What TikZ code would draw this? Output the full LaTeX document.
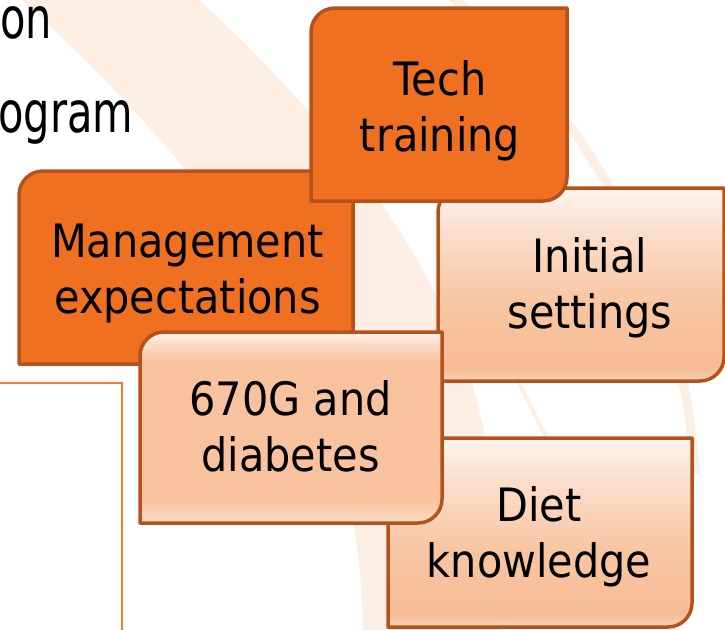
\documentclass[tikz,border=0pt]{standalone}
\usepackage{fontspec}
\setmainfont{DejaVu Sans}
\newfontfamily\boxfont{DejaVu Sans}[FakeStretch=0.9]
\newfontfamily\bodyfont{DejaVu Sans}[FakeStretch=0.73]

\definecolor{boxdark}{HTML}{F07022}
\definecolor{boxedge}{HTML}{B5521B}
\definecolor{swoosh}{HTML}{FDEEE3}
\definecolor{frameline}{HTML}{F47B30}
\definecolor{pkTop}{HTML}{FEF4EE}
\definecolor{pkUp}{HTML}{FBDCC8}
\definecolor{pkMid}{HTML}{F8C5A2}
\definecolor{pkLow}{HTML}{F7BC95}
\definecolor{pkBot}{HTML}{FAD6BE}
\definecolor{pcMid}{HTML}{F8C29E}

% vertical fills of the light boxes (path box maps to 25bp..75bp)
\pgfdeclareverticalshading{peachsoft}{100bp}{color(0bp)=(pkBot); color(25bp)=(pkBot); color(28bp)=(pkLow); color(45bp)=(pkMid); color(62bp)=(pkUp); color(75bp)=(pkTop); color(100bp)=(pkTop)}
\pgfdeclareverticalshading{peachflat}{100bp}{color(0bp)=(pkUp); color(25bp)=(pkUp); color(31bp)=(pcMid); color(67bp)=(pcMid); color(72bp)=(pkUp); color(75bp)=(pkTop); color(100bp)=(pkTop)}

% box with rounded top-left and bottom-right corners: style, x1, y1, x2, y2
\newcommand\cornerbox[5]{%
  \path[#1] (#2,#5) -- (#2,{#3+24}) .. controls (#2,{#3+10.75}) and ({#2+10.75},#3) .. ({#2+24},#3)
    -- (#4,#3) -- (#4,{#5-24}) .. controls (#4,{#5-10.75}) and ({#4-10.75},#5) .. ({#4-24},#5) -- cycle;}
\newcommand\twolines[1]{\parbox[t]{330pt}{\centering #1}}

\tikzset{
  boxline/.style={draw=boxedge, line width=3.5pt, line join=round},
  darkbox/.style={boxline, fill=boxdark},
  softbox/.style={boxline, shade, shading=peachsoft},
  flatbox/.style={boxline, shade, shading=peachflat},
  lbl/.style={inner sep=0pt, anchor=base, font=\boxfont\fontsize{46}{56.5}\selectfont},
  bodytext/.style={inner sep=0pt, anchor=base west, font=\bodyfont\fontsize{57}{68}\selectfont},
  swooshband/.style={fill=swoosh, draw=none},
  swooshline/.style={draw=swoosh, line cap=round},
}

\begin{document}
\begin{tikzpicture}[x=1pt, y=-1pt]
  \useasboundingbox (0,0) rectangle (725,629);
  \clip (0,0) rectangle (725,629);

  % background swooshes
  \path[swooshband] (20,-2) .. controls (240,200) and (362,380) .. (363,640)
    -- (500,640) -- (490,470) .. controls (470,290) and (340,130) .. (197,-2) -- cycle;
  \draw[swooshline, line width=9pt] (450,-5) .. controls (560,90) and (680,250) .. (695,470);
  \draw[swooshline, line width=4pt] (470,285) -- (565,475);

  % slide text and frame at the left
  \node[bodytext] (txtA) at (0,38) {on};
  \node[bodytext] (txtB) at (-2,132) {ogram};
  \coordinate (frA) at (-2,383);
  \coordinate (frB) at (122,383);
  \coordinate (frC) at (122,640);
  \draw[frameline, line width=1.5pt] (frA) -- (frB) -- (frC);

  % boxes, back to front
  \cornerbox{darkbox}{19}{171}{353}{364}
  \node[lbl] (mgmt) at (187.5,257) {\twolines{Management\\expectations}};

  \cornerbox{softbox}{438}{188}{724}{381}
  \node[lbl] (init) at (590,272) {\twolines{Initial\\settings}};

  \cornerbox{darkbox}{311}{8}{567}{201}
  \node[lbl] (tech) at (440,95) {\twolines{Tech\\training}};

  \cornerbox{softbox}{388}{438}{692}{627}
  \node[lbl] (diet) at (539,521) {\twolines{Diet\\knowledge}};

  \cornerbox{flatbox}{140}{332}{442}{523}
  \node[lbl] (g670) at (290.5,415) {\twolines{670G and\\diabetes}};
\end{tikzpicture}
\end{document}
